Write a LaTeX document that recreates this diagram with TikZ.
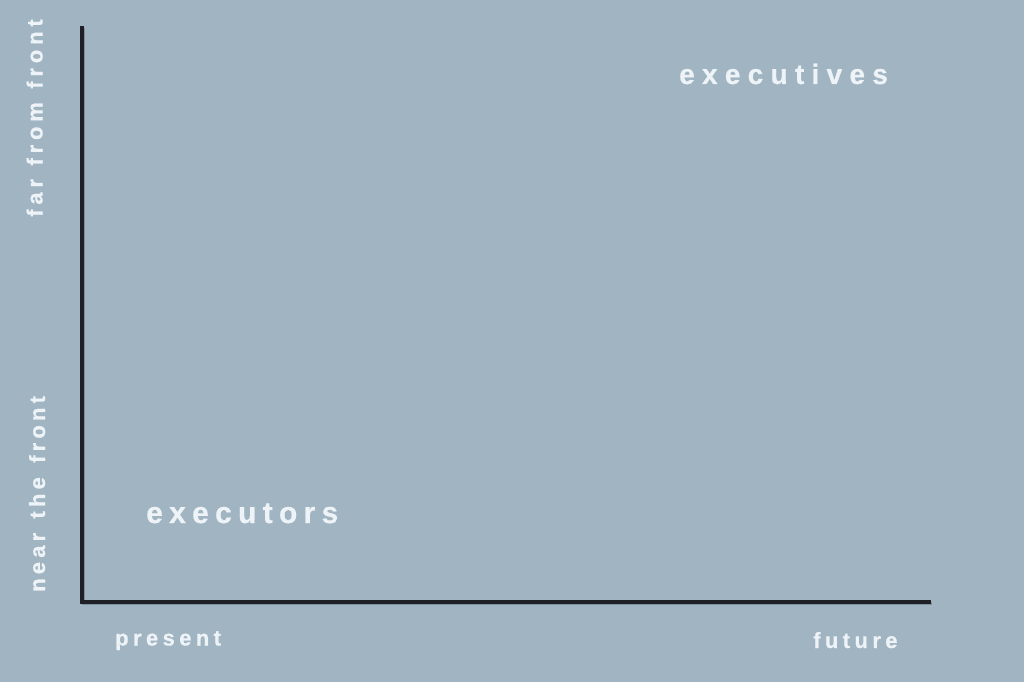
\documentclass[tikz,border=0pt]{standalone}
\usepackage{fontspec}
\setmainfont{Liberation Sans}
\newfontfamily\lblfont[FakeBold=0.6]{Liberation Sans}
\definecolor{bgc}{HTML}{A0B4C2}
\definecolor{txc}{HTML}{EEF3F7}
\definecolor{axc}{HTML}{1E2025}
\definecolor{shc}{HTML}{5F6B75}
\newcommand{\wgap}[1]{\hspace{#1}}
\tikzset{
  lbl/.style 2 args={inner sep=0pt, text=txc,
    font=\lblfont\bfseries\addfontfeature{LetterSpace=#2}\fontsize{#1}{#1}\selectfont},
  axisline/.style={draw=axc, line width=3.6pt, line cap=rect, line join=miter},
  axisshadow/.style={draw=shc, line width=3.6pt, line cap=rect, opacity=0.5},
}
\begin{document}
\begin{tikzpicture}[x=1pt,y=-1pt]
\fill[bgc] (0,0) rectangle (1024,682);
\useasboundingbox (0,0) rectangle (1024,682);
\coordinate (top) at (82,28);
\coordinate (origin) at (82,602);
\coordinate (right) at (929,602);
\coordinate (tops) at (83.5,29.5);
\coordinate (origins) at (83.5,603.5);
\coordinate (rights) at (930.5,603.5);
\draw[axisshadow] (tops) -- (origins) -- (rights);
\draw[axisline] (top) -- (origin) -- (right);
\node[lbl={28}{26}, anchor=base west] (execs) at (679,84) {executives};
\node[lbl={30}{21}, anchor=base west] (exors) at (146,523) {executors};
\node[lbl={22}{20}, anchor=base west] (pres) at (115,645.5) {present};
\node[lbl={22}{20}, anchor=base west] (fut) at (813,648) {future};
\node[lbl={22}{22}, anchor=base west, rotate=90] (far) at (42.5,217) {far\wgap{2.5pt} from\wgap{2.5pt} front};
\node[lbl={22}{19}, anchor=base west, rotate=90] (near) at (45,592) {near\wgap{4pt} the\wgap{4pt} front};
\end{tikzpicture}
\end{document}
